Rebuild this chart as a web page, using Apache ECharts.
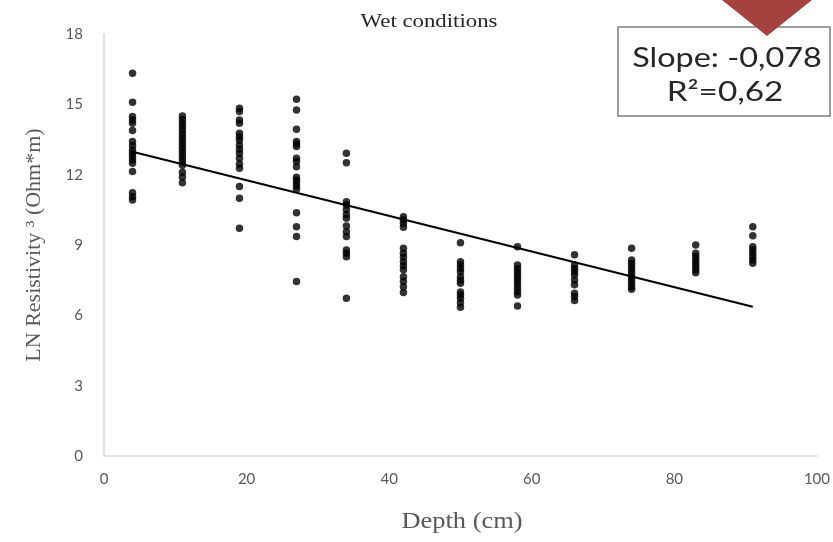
<!DOCTYPE html>
<html>
<head>
<meta charset="utf-8">
<script src="https://cdn.jsdelivr.net/npm/echarts@6/dist/echarts.min.js"></script>
<style>html,body{margin:0;padding:0;background:#fff;}#c{width:833px;height:542px;}</style>
</head>
<body>
<div id="c"></div>
<script>
// Depth groups (cm) and LN resistivity readings at each depth
const depths = [4, 11, 19, 27, 34, 42, 50, 58, 66, 74, 83, 91];
const d4  = [16.33, 15.09, 14.48, 14.33, 14.19, 13.88, 13.41, 13.23, 13.05, 12.91, 12.77, 12.63, 12.49, 12.13, 11.23, 11.06, 10.92];
const d11 = [14.5, 14.35, 14.2, 14.05, 13.9, 13.75, 13.6, 13.45, 13.3, 13.15, 13.0, 12.85, 12.7, 12.55, 12.4, 12.1, 11.9, 11.65];
const d19 = [14.83, 14.69, 14.33, 14.19, 13.77, 13.62, 13.48, 13.27, 13.08, 12.91, 12.7, 12.46, 12.27, 11.49, 10.99, 9.71];
const d27 = [15.22, 14.76, 13.94, 13.41, 13.31, 13.2, 12.7, 12.56, 12.34, 11.89, 11.77, 11.66, 11.52, 11.38, 10.38, 9.78, 9.36, 7.44];
const d34 = [12.91, 12.51, 10.85, 10.71, 10.5, 10.3, 10.14, 9.81, 9.57, 9.36, 8.79, 8.65, 8.5, 6.73];
const d42 = [10.21, 10.07, 9.93, 9.76, 8.86, 8.65, 8.48, 8.29, 8.11, 7.94, 7.65, 7.44, 7.22, 6.97];
const d50 = [9.1, 8.29, 8.15, 8.0, 7.86, 7.65, 7.5, 7.37, 7.0, 6.87, 6.73, 6.54, 6.34];
const d58 = [8.93, 8.15, 8.0, 7.86, 7.72, 7.58, 7.44, 7.3, 7.15, 7.01, 6.87, 6.4];
const d66 = [8.58, 8.15, 8.0, 7.86, 7.72, 7.51, 7.3, 6.94, 6.8, 6.63];
const d74 = [8.86, 8.36, 8.22, 8.08, 7.94, 7.79, 7.65, 7.51, 7.37, 7.22, 7.11];
const d83 = [9.0, 8.65, 8.5, 8.36, 8.22, 8.08, 7.94, 7.82];
const d91 = [9.78, 9.39, 8.93, 8.8, 8.65, 8.5, 8.36, 8.22];
const groups = [d4, d11, d19, d27, d34, d42, d50, d58, d66, d74, d83, d91];

// Linear trend line endpoints
const trendX = [4, 91];
const trendY = [12.98, 6.37];

const xTicks = [0, 20, 40, 60, 80, 100];
const yTicks = [0, 3, 6, 9, 12, 15, 18];

const subtitleText = 'Wet conditions';
const slopeText = 'Slope: -0,078';
const r2Text = 'R²=0,62';
const xName = 'Depth (cm)';
const yName = 'LN Resistivity ³ (Ohm*m)';

const points = [];
groups.forEach((g, i) => g.forEach(v => points.push([depths[i], v])));
const trend = trendX.map((x, i) => [x, trendY[i]]);

const chart = echarts.init(document.getElementById('c'), null, {renderer: 'canvas'});
const tickFont = {fontFamily: 'Lato', fontSize: 15, color: '#595959'};
chart.setOption({
  animation: false,
  backgroundColor: '#fff',
  grid: {left: 104, right: 15, top: 34, bottom: 86},
  xAxis: {
    type: 'value', min: 0, max: 100, interval: 20,
    axisLine: {show: true, lineStyle: {color: '#d9d9d9', width: 1.5}},
    axisTick: {show: false},
    splitLine: {show: false},
    axisLabel: Object.assign({margin: 16, formatter: v => xTicks.includes(v) ? String(v) : ''}, tickFont)
  },
  yAxis: {
    type: 'value', min: 0, max: 18, interval: 3,
    name: yName, nameLocation: 'middle', nameGap: 59,
    nameTextStyle: {fontFamily: 'Liberation Serif', fontSize: 22, color: '#595959'},
    axisLine: {show: true, lineStyle: {color: '#d9d9d9', width: 1.5}},
    axisTick: {show: false},
    splitLine: {show: false},
    axisLabel: Object.assign({margin: 21, formatter: v => yTicks.includes(v) ? String(v) : ''}, tickFont)
  },
  series: [
    {
      type: 'scatter', data: points, symbol: 'circle', symbolSize: 7.5,
      itemStyle: {color: '#000'}, z: 3
    },
    {
      type: 'line', data: trend, symbol: 'none',
      lineStyle: {color: '#000', width: 2}, z: 4
    }
  ],
  graphic: [
    {type: 'text', z: 10, x: 429, y: 22, scaleX: 1.2,
     style: {text: subtitleText, align: 'center', verticalAlign: 'middle', fontFamily: 'Liberation Serif', fontSize: 19, fill: '#262626'}},
    {type: 'text', z: 10, x: 462, y: 522, scaleX: 1.15,
     style: {text: xName, align: 'center', verticalAlign: 'middle', fontFamily: 'Liberation Serif', fontSize: 23, fill: '#595959'}},
    {type: 'rect', shape: {x: 618, y: 27, width: 212, height: 89}, z: 20,
     style: {fill: '#fff', stroke: '#808080', lineWidth: 1.5}},
    {type: 'text', z: 21, x: 727, y: 58, scaleX: 1.2,
     style: {text: slopeText, align: 'center', verticalAlign: 'middle', fontFamily: 'Lato', fontSize: 27, fill: '#262626'}},
    {type: 'text', z: 21, x: 725, y: 93, scaleX: 1.28,
     style: {text: r2Text, align: 'center', verticalAlign: 'middle', fontFamily: 'Lato', fontSize: 26, fill: '#262626'}},
    {type: 'polygon', z: 22, shape: {points: [[722, 0], [812, 0], [767, 36]]},
     style: {fill: '#a5423f'}}
  ]
});
</script>
</body>
</html>
